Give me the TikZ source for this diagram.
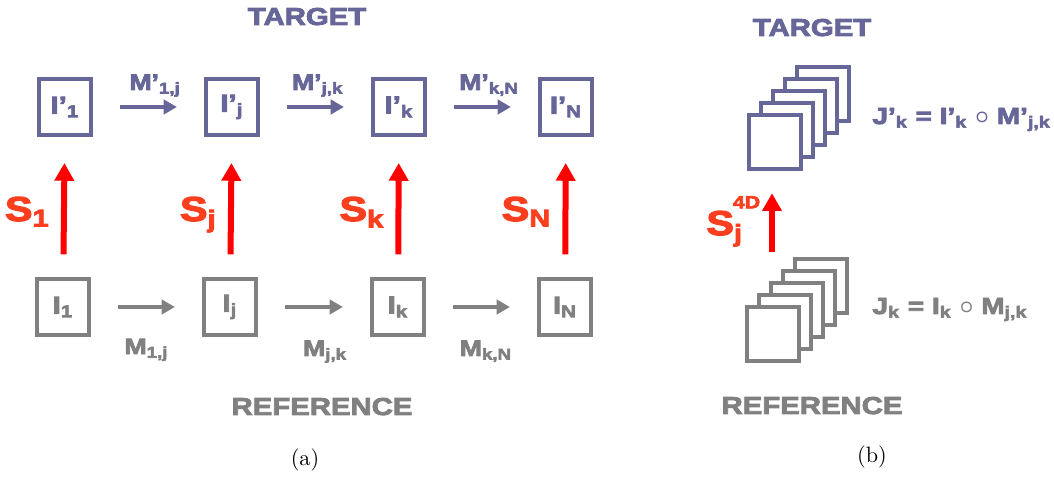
\documentclass[tikz,border=0pt]{standalone}
\usepackage{fontspec}
\newfontfamily\blk{Liberation Sans Bold}[FakeStretch=1.2,FakeBold=3.5]
\usetikzlibrary{arrows.meta,positioning}
\definecolor{tcol}{RGB}{102,102,153}
\definecolor{rcol}{RGB}{128,128,128}
\definecolor{scol}{RGB}{250,62,30}
\newcommand{\lo}[1]{\textsubscript{#1}}
\tikzset{
  kep/.style={draw,line width=1.8pt,minimum width=23.8pt,minimum height=25.6pt,inner sep=0pt,
    font=\blk\fontsize{11}{13}\selectfont},
  tkep/.style={kep,draw=tcol,text=tcol},
  rkep/.style={kep,draw=rcol,text=rcol},
  lap/.style={draw,line width=1.8pt,fill=white,minimum width=23.4pt,minimum height=24.3pt,inner sep=0pt},
  nyil/.style={line width=1.8pt,-{Triangle[length=6pt,width=6.5pt]},shorten <=12pt,shorten >=12pt},
  snyil/.style={red,line width=2.7pt,-{Triangle[length=8pt,width=8.5pt]}},
  cim/.style={font=\blk\fontsize{11}{13}\selectfont,inner sep=0pt,anchor=base},
  mtx/.style={font=\blk\fontsize{10}{12}\selectfont,inner sep=0pt,anchor=base},
  stx/.style={font=\blk\fontsize{15.5}{18}\selectfont,text=scol,inner sep=0pt,anchor=base east},
  egy/.style={font=\blk\fontsize{10.5}{12}\selectfont,inner sep=0pt,anchor=base west},
  felirat/.style={font=\fontsize{10}{12}\selectfont,inner sep=0pt,anchor=base},
}

\begin{document}
\begin{tikzpicture}[x=0.45pt,y=-0.45pt]
  \useasboundingbox (0,0) rectangle (1054,478);
  \node[cim,text=tcol] (tcim) at (307,25) {TARGET};
  \node[cim,text=rcol] (rcim) at (322,415) {REFERENCE};
  \node[tkep] (tI1) at (65,107) {I’\lo{1}};
  \node[tkep] (tIj) at (232,107) {I’\lo{j}};
  \node[tkep] (tIk) at (399,107) {I’\lo{k}};
  \node[tkep] (tIN) at (566,107) {I’\lo{N}};
  \node[rkep] (rI1) at (63,307) {I\lo{1}};
  \node[rkep] (rIj) at (230,307) {I\lo{j}};
  \node[rkep] (rIk) at (398,307) {I\lo{k}};
  \node[rkep] (rIN) at (565,307) {I\lo{N}};
  \draw[nyil,tcol] (tI1) -- node[mtx,text=tcol,yshift=7.7pt,xshift=3pt] {M’\lo{1,j}} (tIj);
  \draw[nyil,tcol] (tIj) -- node[mtx,text=tcol,yshift=7.7pt,xshift=1pt] {M’\lo{j,k}} (tIk);
  \draw[nyil,tcol] (tIk) -- node[mtx,text=tcol,yshift=7.7pt,xshift=3pt] {M’\lo{k,N}} (tIN);
  \draw[nyil,rcol] (rI1) -- node[mtx,text=rcol,yshift=-21.2pt] {M\lo{1,j}} (rIj);
  \draw[nyil,rcol] (rIj) -- node[mtx,text=rcol,yshift=-22pt,xshift=5pt] {M\lo{j,k}} (rIk);
  \draw[nyil,rcol] (rIk) -- node[mtx,text=rcol,yshift=-22pt,xshift=2pt] {M\lo{k,N}} (rIN);
  \draw[snyil,shorten <=10pt,shorten >=11.5pt] (rI1) -- node[stx,pos=0.4,xshift=-5pt] {S\lo{1}} (tI1);
  \draw[snyil,shorten <=10pt,shorten >=11.5pt] (rIj) -- node[stx,pos=0.4,xshift=-5pt] {S\lo{j}} (tIj);
  \draw[snyil,shorten <=10pt,shorten >=11.5pt] (rIk) -- node[stx,pos=0.4,xshift=-5pt] {S\lo{k}} (tIk);
  \draw[snyil,shorten <=10pt,shorten >=11.5pt] (rIN) -- node[stx,pos=0.4,xshift=-5pt] {S\lo{N}} (tIN);
  \node[felirat] (fa) at (305,465) {(a)};
  \node[cim,text=tcol] (tcim2) at (812,36) {TARGET};
  \node[cim,text=rcol] (rcim2) at (812,414) {REFERENCE};
  \foreach \i in {5,4,...,1}
    \node[lap,draw=tcol] (ts\i) at ({775+12*(\i-1)},{142-12*(\i-1)}) {};
  \foreach \i in {5,4,...,1}
    \node[lap,draw=rcol] (rs\i) at ({773+12*(\i-1)},{334-12*(\i-1)}) {};
  \node[egy,text=tcol] (teq) at (872,124) {J’\lo{k} = I’\lo{k} {\boldmath$\circ$} M’\lo{j,k}};
  \node[egy,text=rcol] (req) at (872,314) {J\lo{k} = I\lo{k} {\boldmath$\circ$} M\lo{j,k}};
  \coordinate (salj) at (772,252);
  \draw[snyil,shorten >=10pt] (salj) -- (salj |- ts1.south);
  \node[stx,anchor=base west] (s4d) at (706,235)
    {S\rlap{\kern-0.5pt\raisebox{12pt}{\fontsize{8}{10}\selectfont 4D}}\lo{j}};
  \node[felirat] (fb) at (872,462) {(b)};
\end{tikzpicture}
\end{document}
